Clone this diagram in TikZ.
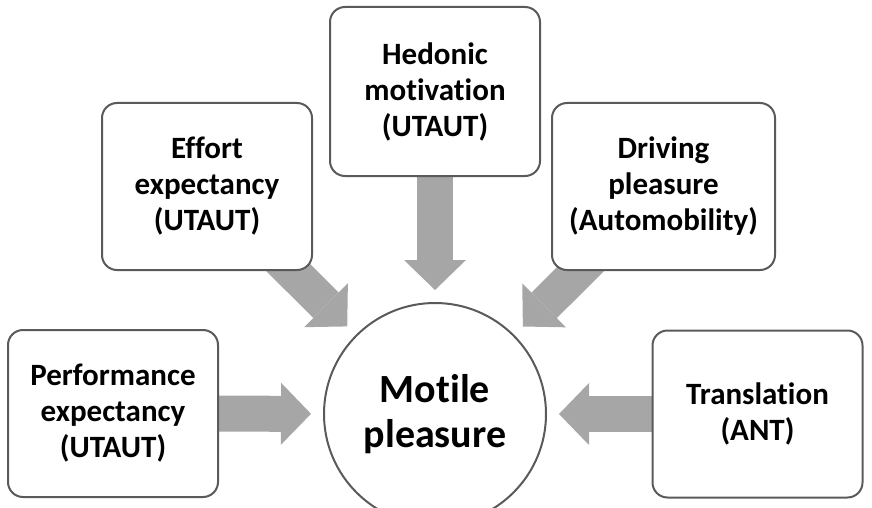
\documentclass[tikz,border=0pt]{standalone}
\usepackage{fontspec}
\setmainfont{Carlito}[Ligatures=CommonOff]
\usetikzlibrary{arrows.meta,backgrounds}
\definecolor{boxline}{HTML}{5A5A5A}
\definecolor{arrowgray}{HTML}{A6A6A6}
\begin{document}
\begin{tikzpicture}[x=0.5pt, y=-0.5pt,
      factor/.style={
        draw=boxline,
        line width=1pt,
        fill=white,
        rounded corners=7.5pt,
        minimum width=105pt,
        minimum height=83.5pt,
        inner sep=0pt,
        align=center,
        font=\fontsize{15.5}{18}\selectfont\bfseries
      },
      centre/.style={
        draw=boxline,
        line width=1pt,
        fill=white,
        circle,
        minimum size=111pt,
        inner sep=0pt,
        align=center,
        font=\fontsize{20}{22.5}\selectfont\bfseries
      },
      blockarrow/.style={
        draw=arrowgray,
        line width=18pt,
        -{Triangle[length=15pt, width=31pt, line width=0pt]},
        shorten >=6pt
      },
    ]

    \useasboundingbox (0, 0) rectangle (872, 508);

    \node [centre] (motile) at (435, 414) {Motile\\pleasure};

    \node [factor] (perf) at (113, 413.5) {Performance\\expectancy\\(UTAUT)};
    \node [factor] (effort) at (207, 186.5) {Effort\\expectancy\\(UTAUT)};
    \node [factor, minimum height=84.5pt] (hedonic) at (435, 91.5)
          {Hedonic\\motivation\\(UTAUT)};
    \node [factor, minimum width=111.5pt] (driving) at (663.5, 186.5)
          {Driving\\pleasure\\(Automobility)};
    \node [factor] (transl) at (757.5, 414) {Translation\\(ANT)};

    \begin{scope}[on background layer]
      \draw [blockarrow] (perf.center) -- (motile);
      \draw [blockarrow] (effort.center) -- (motile);
      \draw [blockarrow] (hedonic.center) -- (motile);
      \draw [blockarrow] (driving.center) -- (motile);
      \draw [blockarrow] (transl.center) -- (motile);
    \end{scope}
\end{tikzpicture}
\end{document}
